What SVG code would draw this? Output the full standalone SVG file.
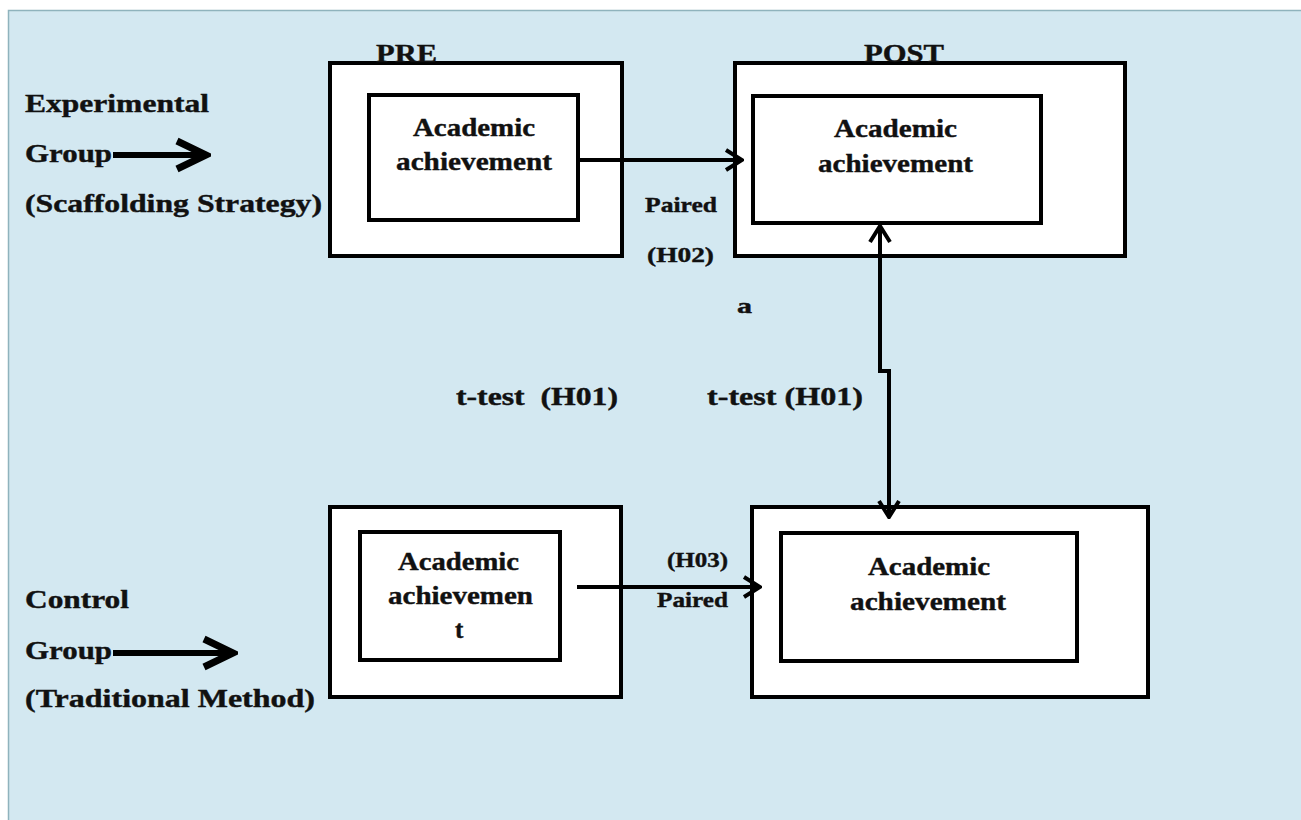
<svg xmlns="http://www.w3.org/2000/svg" width="1301" height="820" viewBox="0 0 1301 820">
<style>
.t{font-family:"Liberation Serif","Times New Roman",serif;font-weight:bold;fill:#111;stroke:#111;stroke-width:0.4;font-size:25px;white-space:pre}
.s{font-size:22px}
.box{fill:#fff;stroke:#000;stroke-width:4}
.ln{fill:none;stroke:#000;stroke-width:4}
.big{fill:none;stroke:#000;stroke-width:6}
</style>
<defs>
<marker id="chev" viewBox="0 0 22 24" refX="20" refY="12" markerWidth="22" markerHeight="24" markerUnits="userSpaceOnUse" orient="auto-start-reverse">
<path d="M4,2 L20,12 L4,22" fill="none" stroke="#000" stroke-width="4"/>
</marker>
<marker id="bigchev" viewBox="0 0 40 36" refX="36" refY="18" markerWidth="40" markerHeight="36" markerUnits="userSpaceOnUse" orient="auto">
<path d="M6,4 L35,18 L6,32" fill="none" stroke="#000" stroke-width="7" stroke-linejoin="miter"/>
</marker>
</defs>
<rect x="0" y="0" width="1301" height="820" fill="#fff"/>
<rect x="8.5" y="10.5" width="1300" height="820" fill="#d3e8f1" stroke="#8fb3bd" stroke-width="1.5"/>

<g id="exp-label">
<text class="t" x="25" y="112" textLength="184" lengthAdjust="spacingAndGlyphs">Experimental</text>
<text class="t" x="25" y="162" textLength="87" lengthAdjust="spacingAndGlyphs">Group</text>
<text class="t" x="25" y="212" textLength="297" lengthAdjust="spacingAndGlyphs">(Scaffolding Strategy)</text>
</g>

<g id="ctrl-label">
<text class="t" x="25" y="608" textLength="104" lengthAdjust="spacingAndGlyphs">Control</text>
<text class="t" x="25" y="659" textLength="87" lengthAdjust="spacingAndGlyphs">Group</text>
<text class="t" x="25" y="707" textLength="290" lengthAdjust="spacingAndGlyphs">(Traditional Method)</text>
</g>

<g id="exp-pre">
<rect class="box" x="330" y="63" width="292" height="193"/>
<text class="t" x="376" y="62" textLength="61" lengthAdjust="spacingAndGlyphs">PRE</text>
<rect class="box" x="369" y="95" width="209" height="125"/>
<text class="t" x="413" y="136" textLength="122" lengthAdjust="spacingAndGlyphs">Academic</text>
<text class="t" x="396" y="170" textLength="156" lengthAdjust="spacingAndGlyphs">achievement</text>
</g>

<g id="exp-post">
<rect class="box" x="735" y="63" width="390" height="193"/>
<text class="t" x="864" y="62" textLength="80" lengthAdjust="spacingAndGlyphs">POST</text>
<rect class="box" x="753" y="96" width="288" height="127"/>
<text class="t" x="834" y="137" textLength="123" lengthAdjust="spacingAndGlyphs">Academic</text>
<text class="t" x="818" y="172" textLength="155" lengthAdjust="spacingAndGlyphs">achievement</text>
</g>

<g id="ctrl-pre">
<rect class="box" x="330" y="507" width="291" height="190"/>
<rect class="box" x="360" y="532" width="200" height="128"/>
<text class="t" x="398" y="570" textLength="121" lengthAdjust="spacingAndGlyphs">Academic</text>
<text class="t" x="388" y="604" textLength="145" lengthAdjust="spacingAndGlyphs">achievemen</text>
<text class="t" x="455" y="638">t</text>
</g>

<g id="ctrl-post">
<rect class="box" x="752" y="507" width="396" height="190"/>
<rect class="box" x="781" y="533" width="296" height="128"/>
<text class="t" x="868" y="575" textLength="122" lengthAdjust="spacingAndGlyphs">Academic</text>
<text class="t" x="850" y="610" textLength="156" lengthAdjust="spacingAndGlyphs">achievement</text>
</g>

<g id="connectors">
<path class="big" d="M113,155 H207" marker-end="url(#bigchev)"/>
<path class="big" d="M113,653 H234" marker-end="url(#bigchev)"/>
<path class="ln" d="M579,160 H742" marker-end="url(#chev)"/>
<path class="ln" d="M577,587 H760" marker-end="url(#chev)"/>
<path class="ln" d="M880,226 V371 H889 V517" marker-start="url(#chev)" marker-end="url(#chev)"/>
</g>

<g id="labels">
<text class="t s" x="645" y="212" textLength="72" lengthAdjust="spacingAndGlyphs">Paired</text>
<text class="t s" x="647" y="262" textLength="67" lengthAdjust="spacingAndGlyphs">(H02)</text>
<text class="t s" x="737" y="313" textLength="15" lengthAdjust="spacingAndGlyphs">a</text>
<text class="t" x="456" y="405" textLength="162" lengthAdjust="spacingAndGlyphs" xml:space="preserve">t-test  (H01)</text>
<text class="t" x="707" y="405" textLength="156" lengthAdjust="spacingAndGlyphs">t-test (H01)</text>
<text class="t s" x="667" y="567" textLength="61" lengthAdjust="spacingAndGlyphs">(H03)</text>
<text class="t s" x="657" y="607" textLength="71" lengthAdjust="spacingAndGlyphs">Paired</text>
</g>
</svg>
